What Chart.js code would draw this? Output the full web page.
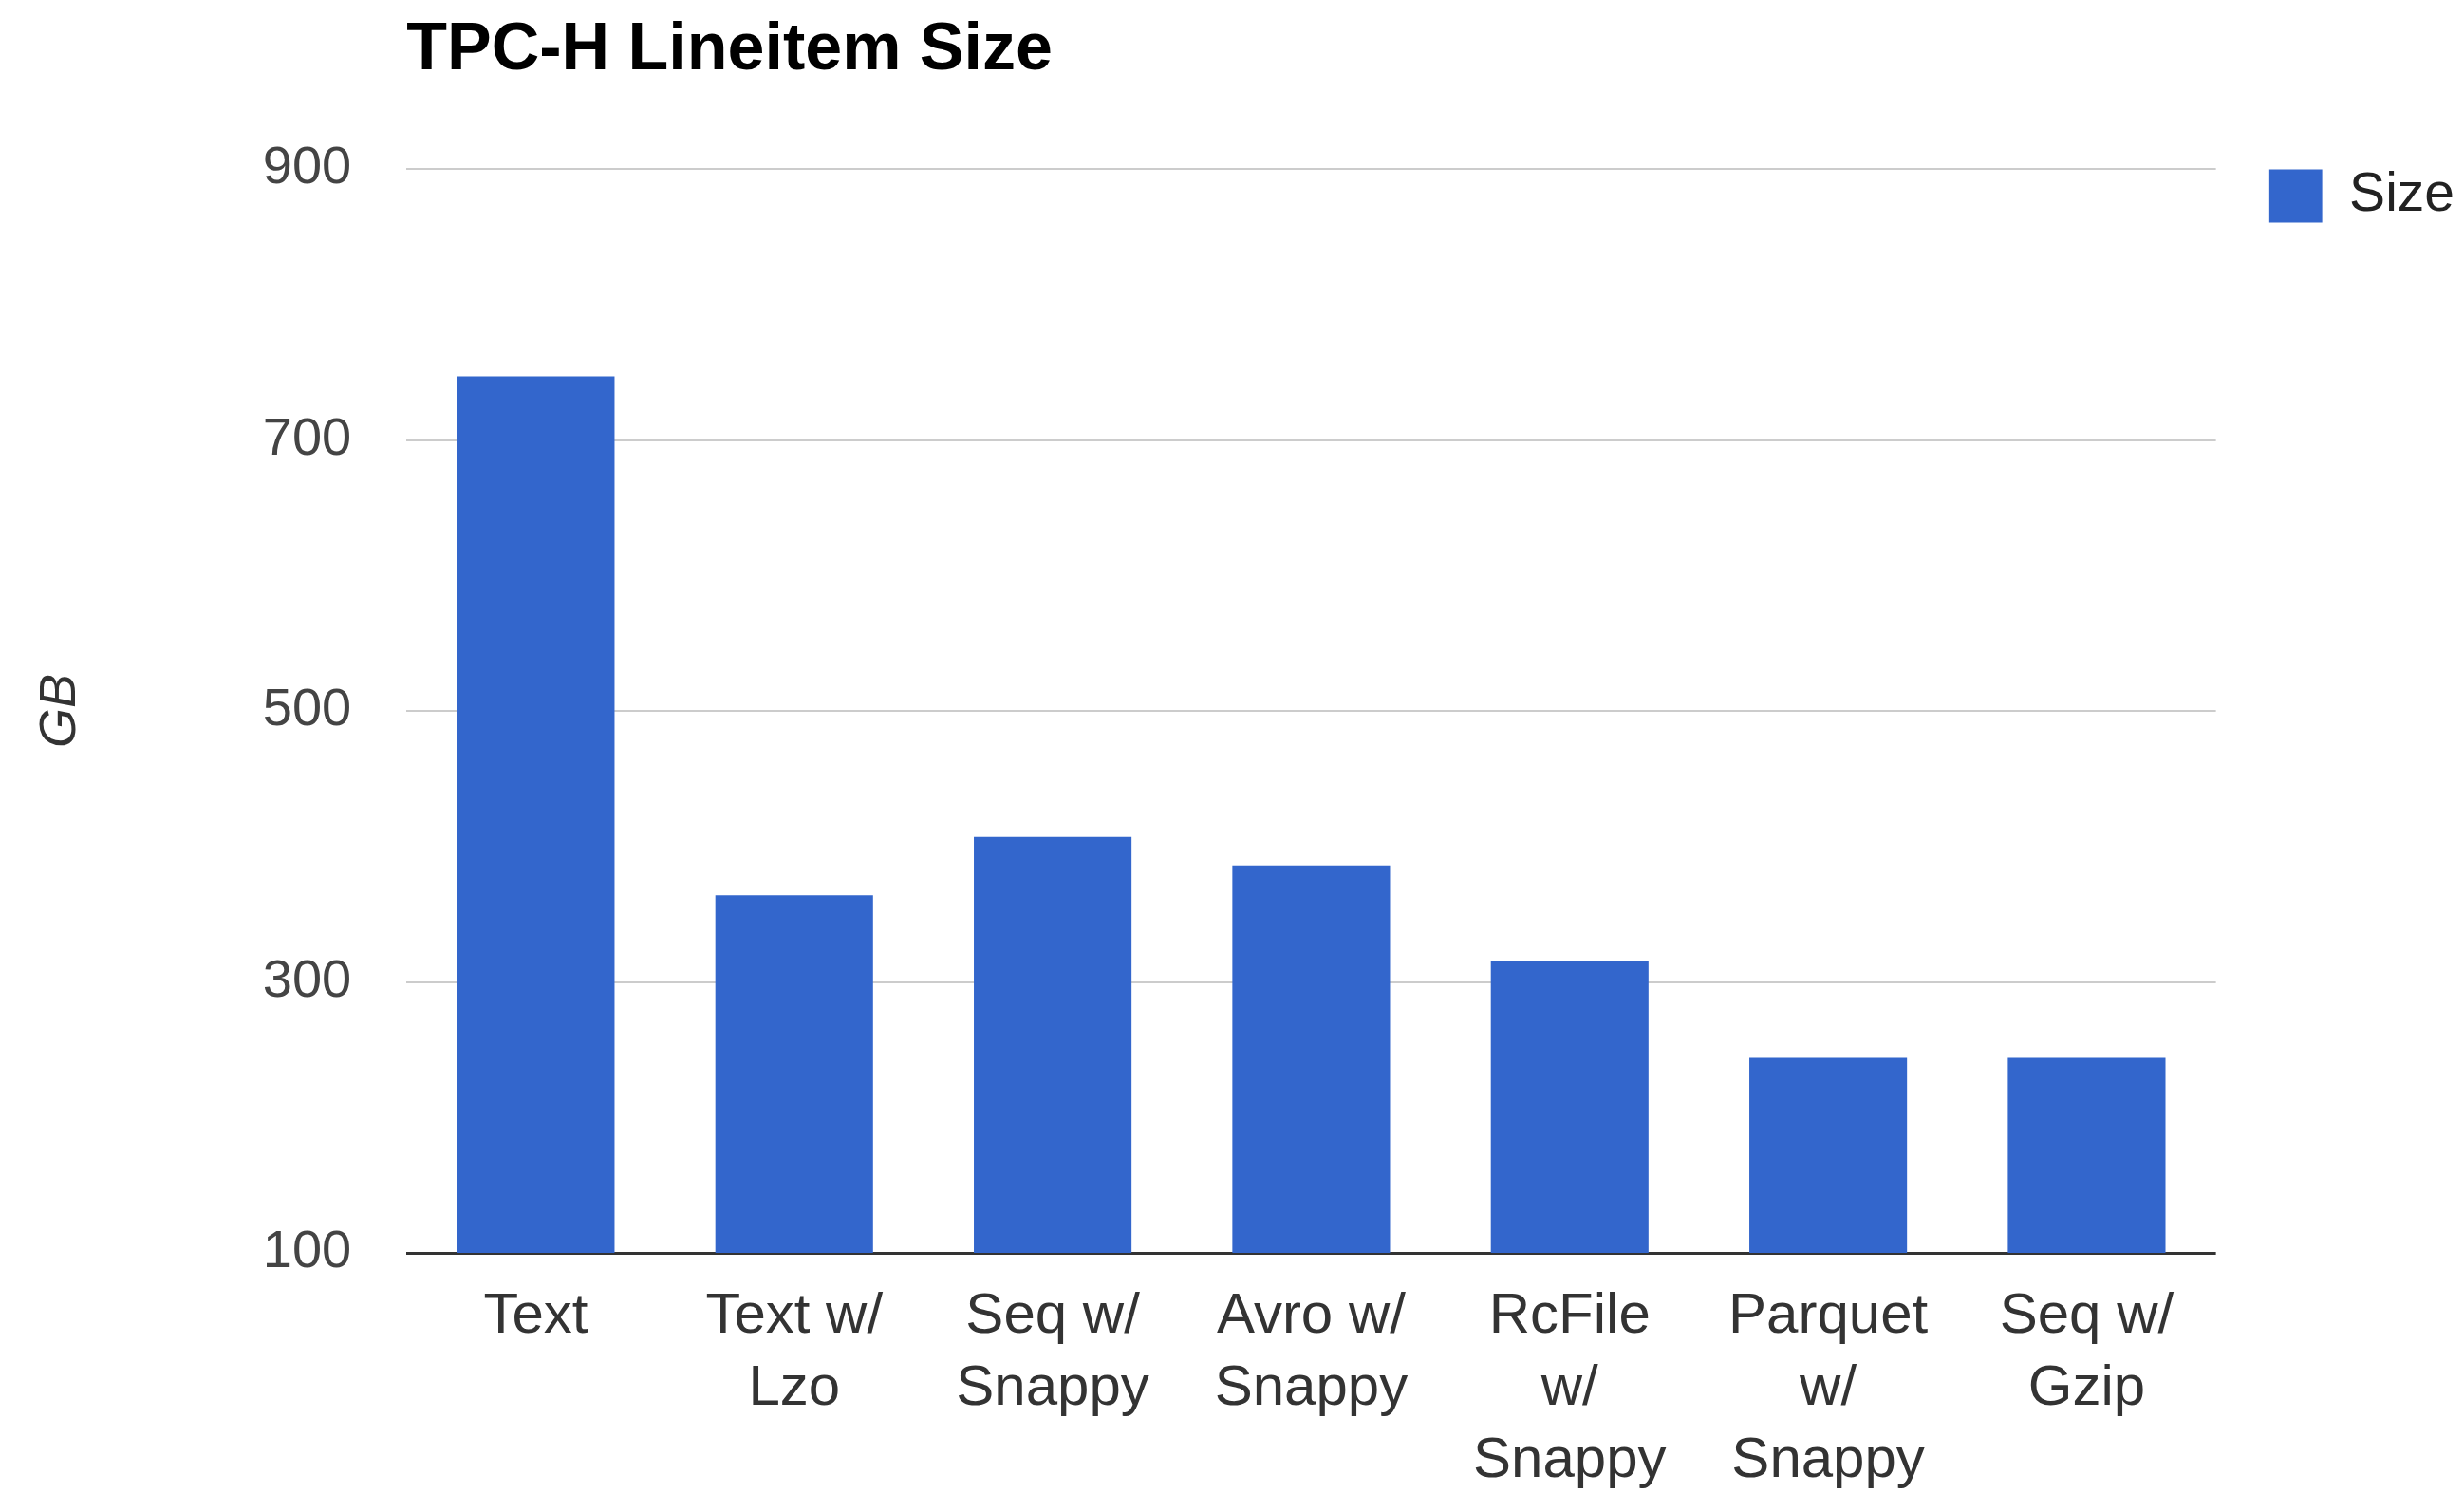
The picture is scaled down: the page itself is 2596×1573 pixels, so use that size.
<!DOCTYPE html>
<html>
<head>
<meta charset="utf-8">
<script src="https://cdn.jsdelivr.net/npm/chart.js@4/dist/chart.umd.min.js"></script>
<style>
  html, body { margin: 0; padding: 0; background: #fff; }
  #wrap { width: 2596px; height: 1573px; }
</style>
</head>
<body>
<div id="wrap"><canvas id="grafica"></canvas></div>
<script>
// datos
const categorias = [
    'Text',
    ['Text w/', 'Lzo'],
    ['Seq w/', 'Snappy'],
    ['Avro w/', 'Snappy'],
    ['RcFile', 'w/', 'Snappy'],
    ['Parquet', 'w/', 'Snappy'],
    ['Seq w/', 'Gzip']
];
const tamanos = [747, 364, 407, 386, 315, 244, 244];
const ticksY = [100, 300, 500, 700, 900];

const fuente = "Arial, 'Liberation Sans', sans-serif";

const ctx = document.getElementById('grafica').getContext('2d');
new Chart(ctx, {
    type: 'bar',
    data: {
        labels: categorias,
        datasets: [{
            label: 'Size',
            data: tamanos,
            backgroundColor: '#3366cc',
            borderWidth: 0,
            barPercentage: 0.61,
            categoryPercentage: 1
        }]
    },
    options: {
        responsive: true,
        maintainAspectRatio: false,
        animation: false,
        layout: { padding: { left: 10, right: 0, top: 0, bottom: 0 } },
        plugins: {
            title: {
                display: true,
                text: 'TPC-H Lineitem Size',
                align: 'start',
                fullSize: false,
                color: '#000',
                font: { family: fuente, size: 70, weight: 'bold' },
                padding: { top: 12, bottom: 82 }
            },
            legend: {
                display: true,
                position: 'right',
                align: 'start',
                fullSize: false,
                labels: {
                    color: '#222',
                    boxWidth: 56,
                    boxHeight: 56,
                    padding: 0,
                    font: { family: fuente, size: 57 }
                }
            },
            tooltip: { enabled: false }
        },
        scales: {
            x: {
                grid: { display: false, drawTicks: false },
                border: { display: false },
                ticks: {
                    color: '#333',
                    padding: 29,
                    maxRotation: 0,
                    autoSkip: false,
                    font: { family: fuente, size: 60, lineHeight: 1.27 }
                },
                afterFit: (eje) => { eje.height = 253; }
            },
            y: {
                min: 100,
                max: 900,
                afterBuildTicks: (eje) => {
                    eje.ticks = ticksY.map(v => ({ value: v }));
                },
                grid: {
                    drawTicks: false,
                    color: (c) => c.tick && c.tick.value === 100 ? '#333333' : '#cccccc',
                    lineWidth: (c) => c.tick && c.tick.value === 100 ? 3 : 2
                },
                border: { display: false },
                ticks: {
                    color: '#444',
                    padding: 58,
                    font: { family: fuente, size: 56 }
                },
                title: {
                    display: true,
                    text: 'GB',
                    color: '#333',
                    font: { family: fuente, size: 54, style: 'italic' },
                    padding: { top: 22, bottom: 122 }
                }
            },
            // eje vacío solo para dejar hueco entre el área y la leyenda
            hueco: {
                type: 'linear',
                position: 'right',
                grid: { display: false, drawTicks: false },
                border: { display: false },
                ticks: { display: false },
                afterFit: (eje) => { eje.width = 56; }
            }
        }
    }
});
</script>
</body>
</html>
